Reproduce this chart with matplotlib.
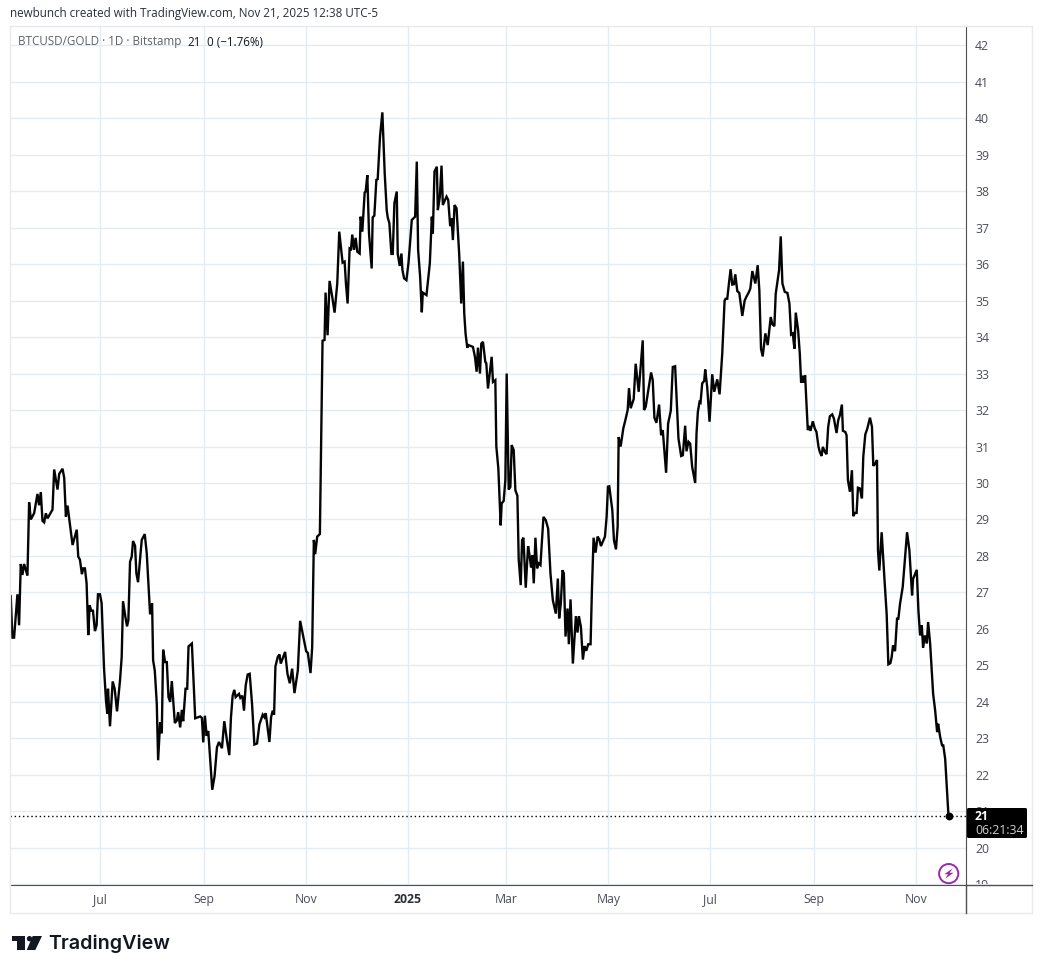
import numpy as np
import matplotlib
matplotlib.use("Agg")
import matplotlib.pyplot as plt
import matplotlib.dates as mdates
from matplotlib.patches import FancyBboxPatch, Circle, Polygon
from matplotlib.lines import Line2D
from matplotlib.transforms import Bbox
from datetime import date

FIRST_DAY = date(2024, 5, 8)

# days since FIRST_DAY and BTCUSD/GOLD ratio
days_a = [0.4,1.4,2.4,4.4,5.4,6.4,7.4,8.4,10.4,11.4,12.4,14.4,16.4,17.4,18.4,19.4,20.4,21.4,22.4,25.4,26.4,28.4,29.4,31.4,32.4,33.4,34.4,37.4,39.9,40.8,41.8,43,43.8,44.8,45.8,46.8,47.6,48.6,49.6,50.8,51.8,52.6,53.8,54.8,56.2,57.4,58.2,58.6,59.8,61.4,62.6,64,65.8,66.8,67.6,69,70,70.8,71.8,72.8,73.6,74.8,75.6,76.6,78.8,80.6,81.8,83.8,85,85.6,86.6,87.8,88.6,89.8,90.8,91.6,92.8,93.8,94.8,95.8,96.8,98.6,99.8,100.6,101.8,102.8,103.6,105,106,106.8,108.8,110.8,113.8,114.8,115.6,116.6,117.6,118.6,119.8,121,122.4,123.8,125,126.8,128.2,129.8,131.2,132.2,133.2,134.2,135,137,137.8,139,140,141,142.2,143.4,144.8,146.2,147.8,149.2,151.2,152.2,153,155.2,156.2,157.2,158,158.8,160.2,161.2,162,164.6,166,167.4,168.8,170.2,172.2,173.6,177.2,178.2,179.8,180.8,181.8,182.6,183.8,185.4]
ratio_a = [26.9,25.76,25.76,26.95,26.1,27.78,27.48,27.78,27.46,29.47,29.0,29.17,29.7,29.39,29.75,28.96,28.92,29.17,29.03,29.27,30.37,29.82,30.25,30.39,30.14,29.08,29.38,28.3,28.72,27.98,27.9,27.5,27.66,27.66,27.25,25.83,26.65,26.5,26.5,25.94,26.1,26.95,26.95,26.7,24.95,24.04,23.67,24.36,23.33,24.56,24.36,23.74,24.59,25.23,26.76,26.33,26.07,26.24,27.84,27.98,28.41,28.28,27.52,27.28,28.44,28.6,28.07,26.4,26.7,25.14,24.86,23.95,22.4,23.44,23.14,25.43,25.09,25.09,24.13,24.0,24.57,23.42,23.49,23.72,23.3,23.78,23.47,24.36,24.36,25.52,25.6,23.55,23.6,23.56,22.89,23.62,23.07,23.2,22.39,21.59,21.97,22.75,22.9,22.73,23.47,22.94,22.54,23.58,24.17,24.33,24.13,24.22,24.11,24.17,23.76,24.45,24.75,24.77,23.95,22.83,22.86,23.38,23.65,23.58,23.69,22.9,23.58,23.76,23.65,24.97,25.23,25.3,25.05,25.37,24.77,24.51,24.91,24.24,24.86,26.22,25.39,25.34,24.79,25.5,28.44,28.05,28.53,28.6]

days_b = [187,188.2,188.8,190,191.2,192.8,194.2,195.8,197,198.2,199,200.2,201,202,203.2,204,204.8,205.8,206.8,207.8,209.2,209.8,210.8,212.2,212.8,213.8,214.8,216.4,217,218,219.2,220,221.4,222.8,224.2,225.4,226,227,228.2,229,230,231.4,232,233.2,234.2,234.8,235.8,237.2,238.4,239.2,240.4,242.4,243.4,244.2,245.4,246.4,247,249.2,251.2,252.4,253,254,255.4,256,257.2,258.2,259,261.2,262.2,263.4,264.2,265,266,267.2,268.8,270,271,271.8,272.6,273.6,274.4,277,278.2,279.2,280,281.2,282,283,284.4,285,286,288.2,289]
ratio_b = [33.9,33.92,35.22,34.05,35.54,35.1,34.67,35.47,36.89,36.39,36.04,36.07,35.47,34.92,36.43,36.41,36.81,36.39,36.72,36.34,36.29,37.3,36.89,37.96,37.99,38.44,36.84,35.88,37.28,37.33,38.31,38.33,39.5,40.16,38.49,37.48,37.28,37.12,36.28,36.28,37.67,37.99,36.28,35.95,36.29,35.84,35.61,35.56,36.02,36.48,37.21,37.3,38.81,36.39,35.65,34.68,35.22,35.15,36.02,37.3,36.84,38.54,38.67,37.48,37.85,38.7,37.62,37.85,37.76,37.04,37.26,36.66,37.62,37.53,36.25,34.92,36.07,34.65,34.09,33.71,33.78,33.73,33.46,33.05,33.71,33.0,33.82,33.87,33.32,33.28,32.59,33.46,32.77]

days_c = [290.4,291,292.2,293.6,294.2,295.4,296.4,297.2,298.4,299.4,300.2,301.4,302.4,303.6,304.4,305.6,306.4,307.2,308.6,310,311,311.8,312.6,313.4,314.4,315.4,316.2,317.4,319.2,320.6,322,323.4,324.8,326.6,327.8,328.6,329.6,330.6,331.4,332.4,333.6,334.4,335.4,336.8,338.6,339.6,340.4,341.6,342.8,343.8,344.8,346,347.4,348.2,349.2,350.4,351.6,352.6,353.6,356,357,357.8,358.6,360.4,361.4,362.6,363.6,364.2,365.4,367,368.2,369.6,370.4,371.4,373.2,374.4,376.2,378.6,379.4,380.4,383.6,384.6,385.6,386.8,388.4,389.6,390.6,392.6,393.8,395.4,396.6,398,400,401.6,402.6,404,404.8,406,407,408.2,410]
ratio_c = [32.82,31.0,30.4,28.84,29.44,29.51,30.08,33.0,29.82,29.89,31.04,30.9,29.8,29.65,27.89,27.2,28.43,28.5,27.13,28.27,27.98,27.68,28.02,27.25,28.5,27.66,27.8,27.75,29.07,28.98,28.75,27.52,26.79,26.42,27.38,26.29,26.7,27.61,27.52,25.79,26.56,25.58,26.81,25.05,26.35,25.9,26.35,26.06,25.16,25.53,25.4,25.58,25.58,27.06,28.5,28.09,28.53,28.46,28.27,28.53,29.07,29.9,29.91,29.26,28.43,28.18,28.8,31.26,31.0,31.5,31.72,32.0,32.6,32.05,32.3,33.27,32.5,33.91,32.0,32.09,33.03,32.82,31.79,31.65,32.15,31.31,31.45,30.28,31.63,31.98,33.18,33.2,31.22,30.74,30.76,31.57,30.87,31.13,31.08,30.44,30.0]

days_d = [410.8,411.6,412.6,413.2,414.2,415.4,416,417.2,418.6,420.2,421.4,423.2,424.6,426.2,427.6,428.2,429.2,430.2,431.2,432.2,433.2,434,435.2,436.4,438.2,439.6,440.6,442.2,443,444.2,446,447.4,448.4,449.4,450.4,452,453.4,455.2,456.2,457.4,458.2,460.2,461.2,462.2,463.6,465.2,466.4,467.4,468.4,469.4,470.2,471.6,472.6,473.4,474.4,475,475.8,476.4,477.4,478.2,479,480.4,481.6,482.6,483.8,484.6,485.6,486.4,487.6,488.6,489.6,490.6,492,493,494.6,495.6,496.6,497.8,498.4,499.8,500.6,501.4,502.6,503.8,504.6,505.6,506.6,507.4,508.6,509.8,510.6,511.8,513,514.6,515.8,516.6,517.8,518.8]
ratio_d = [31.36,31.95,32.22,32.2,32.73,32.8,33.11,32.63,31.68,32.98,32.5,32.84,32.43,33.55,35.0,35.05,35.05,35.47,35.86,35.44,35.45,35.72,35.26,35.21,34.58,35.0,35.1,35.24,35.33,35.81,35.47,35.97,35.28,33.68,33.47,34.1,33.78,34.55,34.35,34.3,35.19,35.83,36.76,35.47,35.24,35.21,34.92,34.07,34.1,33.68,34.67,34.19,33.55,32.75,32.94,32.75,32.95,32.36,31.45,31.56,31.43,31.69,31.49,31.4,30.99,30.85,30.74,30.99,30.85,30.79,31.54,31.83,31.88,31.77,31.37,31.72,31.86,32.15,31.43,31.4,31.31,30.08,29.76,30.35,29.09,29.18,29.18,29.87,29.85,29.58,30.72,31.33,31.49,31.79,31.54,30.47,30.53,30.63]

days_e = [519.4,520.2,521.6,523.2,524.6,525.6,526.8,527.6,528.4,529.6,530.8,531.6,532.6,534.2,536.8,538.2,539.8,540.4,542.6,543.6,544.6,545.6,546.4,547.4,548.6,549.4,550.6,552.4,553.6,554.8,555.4,556.6,557.8,558.4,559.6,561.6]
ratio_e = [28.15,27.6,28.65,27.42,26.4,25.03,25.06,25.23,25.55,25.39,26.28,26.28,26.69,27.15,28.65,28.15,26.92,27.37,27.62,26.5,25.82,26.1,25.48,25.82,25.6,26.19,25.6,24.22,23.77,23.17,23.4,23.04,22.79,22.83,22.44,20.86]

y_ticks = list(range(19, 43))
x_tick_dates = [date(2024,7,1), date(2024,9,1), date(2024,11,1), date(2025,1,1), date(2025,3,1),
                date(2025,5,1), date(2025,7,1), date(2025,9,1), date(2025,11,1)]
x_tick_labels = ["Jul", "Sep", "Nov", "2025", "Mar", "May", "Jul", "Sep", "Nov"]
last_value = 20.86

W, H = 1042, 974
GRID = "#e3edf1"
FRAME = "#e8eaee"
AXIS = "#4f4f4f"
TEXT = "#4a4d57"
FONT = "Open Sans"

days = np.array(days_a + days_b + days_c + days_d + days_e, dtype=float)
ratio = np.array(ratio_a + ratio_b + ratio_c + ratio_d + ratio_e, dtype=float)
x_dates = mdates.date2num(FIRST_DAY) + days

fig = plt.figure(figsize=(W / 100, H / 100), dpi=100, facecolor="white")
def fx(x): return x / W
def fy(y): return 1 - y / H

L, R, T, B = 10, 966, 27, 885
ax = fig.add_axes([fx(L), fy(B), fx(R - L), (B - T) / H])
base = mdates.date2num(FIRST_DAY)
ax.set_xlim(base - 0.04, base + 572.07)
ax.set_ylim(18.98, 42.5)
ax.plot(x_dates, ratio, color="#050505", lw=1.7, solid_joinstyle="miter", zorder=3)
ax.axhline(last_value, color="black", lw=1, ls=(0, (1, 2)), zorder=2)
ax.plot(x_dates[-1], last_value, "o", color="black", ms=4.6, zorder=4)

ax.set_yticks(y_ticks)
ax.set_xticks(mdates.date2num(x_tick_dates))
ax.set_xticklabels(x_tick_labels)
ax.grid(True, color=GRID, lw=1)
ax.set_axisbelow(True)
ax.yaxis.tick_right()
ax.tick_params(axis="y", length=0, pad=6.5, labelsize=8.8, labelcolor=TEXT)
ax.tick_params(axis="x", length=0, pad=6, labelsize=8.8, labelcolor=TEXT)
for s in ("top", "left"):
    ax.spines[s].set_visible(False)
ax.spines["right"].set_color(AXIS)
ax.spines["bottom"].set_color(AXIS)
clip = Bbox([[L, H - B + 1], [W, H - T]])
for lbl in ax.get_yticklabels():
    lbl.set_fontfamily(FONT)
    lbl.set_clip_box(clip)
    lbl.set_clip_on(True)
for lbl, name in zip(ax.get_xticklabels(), x_tick_labels):
    lbl.set_fontfamily(FONT)
    if name == "2025":
        lbl.set_fontweight("bold")
        lbl.set_color("#2a2e39")

def fline(x0, y0, x1, y1, c, lw=1.0):
    fig.add_artist(Line2D([fx(x0), fx(x1)], [fy(y0), fy(y1)], color=c, lw=lw))

# outer frame and axis extensions
fline(10, 26, 1032, 26, FRAME)
fline(10, 26, 10, 913, FRAME)
fline(1032, 26, 1032, 913, FRAME)
fline(10, 913, 1032, 913, FRAME)
fline(966, 885, 966, 913, AXIS)
fline(966, 885, 1032, 885, AXIS)

def ftext(x, y, s, **kw):
    kw.setdefault("family", FONT)
    kw.setdefault("va", "center")
    return fig.text(fx(x), fy(y), s, **kw)

ftext(10, 14, "newbunch created with TradingView.com, Nov 21, 2025 12:38 UTC-5", fontsize=8.35, color="#2a2e39")
ftext(18, 42, "BTCUSD/GOLD · 1D · Bitstamp", fontsize=8.35, color="#5d606b")
ftext(187, 42, "21", fontsize=8.35, color="#131722")
ftext(207, 42, "0 (−1.76%)", fontsize=8.35, color="#131722")

# last price label
fig.add_artist(FancyBboxPatch((967, H - 838), 60, 30, boxstyle="round,pad=0,rounding_size=1.5",
                              transform=None, fc="black", ec="none", zorder=5))
ftext(975, 816, "21", fontsize=8.8, color="white", fontweight="bold", zorder=6)
ftext(975, 830.5, "06:21:34", fontsize=8.8, color="#d0d0d0", fontweight="medium", zorder=6)

# lightning badge
PURPLE = "#9c27b0"
fig.add_artist(Circle((948.7, H - 873.6), 9.6, transform=None, fill=False, ec=PURPLE, lw=1.4, zorder=6))
fig.add_artist(Polygon([(952.5, H-868.5), (944.3, H-874.2), (948, H-874.2), (945.3, H-878.7), (953.5, H-872.8), (949.7, H-872.8)],
                       closed=True, transform=None, fc=PURPLE, ec="none", zorder=6))

# TradingView logo
INK = "#131722"
fig.add_artist(Polygon([(12, H-936), (25.3, H-936), (25.3, H-950), (17.3, H-950), (17.3, H-940.7), (12, H-940.7)],
                       closed=True, transform=None, fc=INK, ec="none"))
fig.add_artist(Circle((29.5, H-938.7), 2.7, transform=None, fc=INK, ec="none"))
fig.add_artist(Polygon([(32.7, H-936), (42, H-936), (35.3, H-950), (26.7, H-950)],
                       closed=True, transform=None, fc=INK, ec="none"))
ftext(48, 944, "TradingView", fontsize=14.2, fontweight="semibold", family="Inter", color=INK)

fig.savefig("out.png", dpi=100, facecolor="white")
